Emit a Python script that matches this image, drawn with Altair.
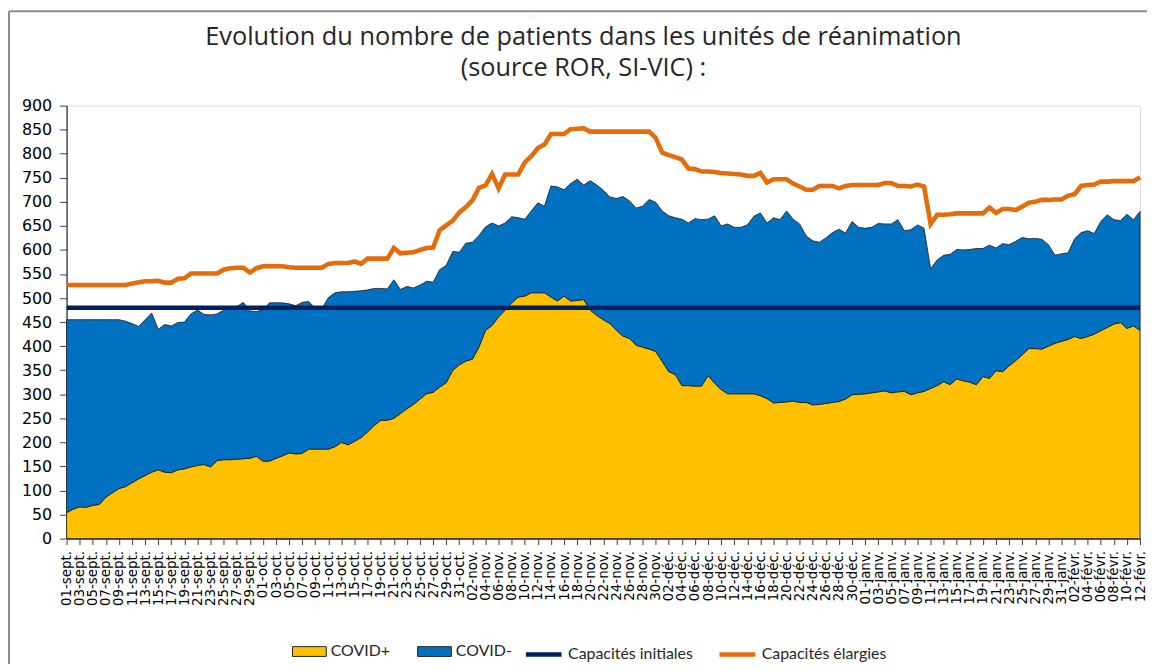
import datetime as dt
import altair as alt
import pandas as pd

# ---------------- data ----------------
covid_pos = [
    54, 61, 66, 65, 69, 71, 86, 95, 104, 108,
    116, 124, 131, 138, 143, 138, 137, 143, 145, 149,
    152, 154, 149, 162, 164, 164, 165, 166, 167, 171,
    161, 161, 167, 172, 178, 176, 177, 186, 186, 186,
    186, 191, 200, 195, 202, 210, 222, 235, 246, 246,
    250, 260, 270, 279, 290, 301, 304, 315, 324, 350,
    361, 369, 373, 398, 433, 443, 461, 475, 490, 502,
    504, 511, 511, 511, 502, 494, 504, 494, 495, 497,
    475, 464, 455, 447, 433, 421, 416, 402, 398, 394,
    389, 368, 347, 341, 318, 318, 317, 317, 339, 323,
    310, 301, 301, 301, 301, 301, 297, 291, 282, 283,
    284, 286, 283, 283, 278, 279, 281, 283, 285, 290,
    299, 300, 301, 303, 305, 307, 303, 305, 306, 299,
    303, 306, 312, 318, 326, 320, 332, 328, 325, 320,
    337, 333, 349, 347, 359, 370, 382, 395, 395, 394,
    400, 406, 410, 414, 420, 416, 420, 425, 432, 439,
    446, 449, 437, 442, 433,
]

# COVID+ plus COVID- (top of the blue area)
total_patients = [
    455, 455, 455, 455, 455, 455, 455, 455, 455, 452,
    447, 441, 455, 469, 435, 445, 442, 449, 450, 467,
    475, 466, 465, 467, 475, 480, 482, 491, 473, 472,
    475, 490, 490, 490, 488, 484, 491, 493, 478, 478,
    501, 511, 513, 513, 514, 515, 517, 520, 520, 519,
    538, 518, 524, 521, 527, 535, 533, 559, 568, 597,
    595, 614, 616, 630, 648, 656, 650, 656, 669, 667,
    664, 681, 698, 691, 733, 731, 725, 738, 747, 735,
    744, 735, 724, 710, 707, 711, 702, 687, 691, 705,
    699, 681, 671, 667, 664, 656, 665, 663, 664, 671,
    650, 654, 647, 647, 652, 670, 677, 656, 667, 663,
    681, 664, 654, 629, 619, 616, 625, 636, 643, 635,
    659, 647, 645, 647, 655, 654, 654, 663, 640, 642,
    652, 645, 561, 579, 589, 591, 601, 600, 601, 603,
    603, 610, 604, 613, 611, 618, 626, 623, 624, 622,
    611, 589, 592, 594, 623, 636, 640, 634, 659, 673,
    663, 661, 674, 663, 680,
]

capacites_elargies = [
    527, 527, 527, 527, 527, 527, 527, 527, 527, 527,
    530, 533, 535, 535, 536, 532, 532, 540, 541, 551,
    551, 551, 551, 551, 559, 562, 563, 563, 553, 562,
    566, 566, 566, 566, 564, 563, 563, 563, 563, 563,
    571, 573, 573, 573, 576, 571, 582, 582, 582, 582,
    604, 593, 594, 595, 600, 604, 605, 641, 651, 661,
    678, 689, 703, 729, 734, 758, 728, 757, 757, 757,
    782, 795, 812, 819, 841, 841, 841, 851, 852, 853,
    846, 846, 846, 846, 846, 846, 846, 846, 846, 846,
    833, 802, 797, 793, 788, 769, 768, 763, 763, 762,
    760, 759, 758, 757, 754, 754, 760, 740, 747, 747,
    747, 738, 732, 725, 725, 733, 733, 733, 728, 733,
    735, 735, 735, 735, 735, 739, 739, 733, 733, 732,
    736, 732, 654, 673, 673, 674, 676, 676, 676, 676,
    676, 688, 677, 685, 685, 683, 690, 698, 700, 704,
    704, 705, 705, 713, 716, 733, 735, 736, 742, 742,
    743, 743, 743, 743, 751,
]

capacites_initiales = 480

mois_fr = {9: "sept.", 10: "oct.", 11: "nov.", 12: "déc.", 1: "janv.", 2: "févr."}
start = dt.date(2020, 9, 1)
n_days = len(covid_pos)
day_labels = [
    f"{d.day:02d}-{mois_fr[d.month]}"
    for d in (start + dt.timedelta(days=i) for i in range(n_days))
]
tick_days = list(range(0, n_days, 2))
y_ticks = list(range(0, 901, 50))

area_series = ["COVID+", "COVID-"]
line_series = ["Capacités initiales", "Capacités élargies"]
YELLOW, BLUE, NAVY, ORANGE = "#FFC000", "#0070C0", "#002060", "#E46C0A"

# ---------------- tables ----------------
area_rows = []
for i in range(n_days):
    area_rows.append({"day": i, "serie": "COVID+", "lo": 0, "hi": covid_pos[i]})
    area_rows.append({"day": i, "serie": "COVID-", "lo": covid_pos[i], "hi": total_patients[i]})
area_df = pd.DataFrame(area_rows)

line_rows = []
for i in range(n_days):
    line_rows.append({"day": i, "serie": "Capacités initiales", "v": capacites_initiales})
    line_rows.append({"day": i, "serie": "Capacités élargies", "v": capacites_elargies[i]})
line_df = pd.DataFrame(line_rows)

label_js = "[" + ",".join("'" + s + "'" for s in day_labels) + "][datum.value]"

x_enc = alt.X(
    "day:Q",
    scale=alt.Scale(domain=[0, n_days - 1], nice=False, zero=False),
    axis=alt.Axis(
        values=tick_days,
        tickCount=500,
        labelExpr=label_js,
        labelAngle=270,
        labelOverlap=False,
        labelFlush=False,
        labelBound=False,
        labelFont="DejaVu Sans",
        labelFontSize=13.5,
        labelColor="#000000",
        labelPadding=6,
        tickSize=6,
        tickColor="#404040",
        domainColor="#262626",
        domainWidth=1.2,
        grid=False,
        title=None,
    ),
)
y_scale = alt.Scale(domain=[0, 900], nice=False, zero=True)
y_axis = alt.Axis(
    values=y_ticks,
    tickCount=500,
    labelOverlap=False,
    labelFont="DejaVu Sans",
    labelFontSize=16,
    labelColor="#000000",
    labelPadding=8,
    tickSize=7,
    tickColor="#404040",
    domainColor="#262626",
    domainWidth=1.2,
    grid=False,
    title=None,
)

legend_common = dict(
    title=None,
    orient="none",
    legendY=532,
    direction="horizontal",
    labelFont="Lato",
    labelFontSize=16,
    labelColor="#262626",
    labelOffset=4,
)

areas = alt.Chart(area_df).mark_area(
    stroke="#1a1a1a", strokeWidth=0.8, interpolate="linear"
).encode(
    x=x_enc,
    y=alt.Y("hi:Q", scale=y_scale, axis=y_axis, stack=None),
    y2="lo:Q",
    fill=alt.Fill(
        "serie:N",
        scale=alt.Scale(domain=area_series, range=[YELLOW, BLUE]),
        sort=area_series,
        legend=alt.Legend(
            legendX=227,
            symbolType="M-1,-0.29H1V0.29H-1Z",
            symbolSize=1156,
            symbolStrokeColor="#262626",
            symbolStrokeWidth=1,
            columnPadding=25,
            **legend_common,
        ),
    ),
)

lines = alt.Chart(line_df).mark_line(strokeWidth=4.6, interpolate="linear").encode(
    x=alt.X("day:Q"),
    y=alt.Y("v:Q"),
    stroke=alt.Stroke(
        "serie:N",
        scale=alt.Scale(domain=line_series, range=[NAVY, ORANGE]),
        sort=line_series,
        legend=alt.Legend(
            legendX=460,
            symbolType="stroke",
            symbolSize=1296,
            symbolStrokeWidth=4.6,
            columnPadding=17,
            **legend_common,
        ),
    ),
    detail="serie:N",
)

frame_df = pd.DataFrame({"k": [0]})
frame_left = alt.Chart(frame_df).mark_rule(color="#8c8c8c", strokeWidth=2).encode(
    x=alt.value(-58), y=alt.value(-95), y2=alt.value(570)
)
frame_top = alt.Chart(frame_df).mark_rule(color="#8c8c8c", strokeWidth=2).encode(
    x=alt.value(-58), x2=alt.value(1090), y=alt.value(-95)
)

chart = (
    alt.layer(areas, lines, frame_left, frame_top)
    .resolve_scale(fill="independent", stroke="independent")
    .properties(
        width=1081,
        height=436,
        padding={"left": 59, "top": 96, "right": 7, "bottom": 124},
        autosize=alt.AutoSizeParams(type="none"),
        title=alt.TitleParams(
            text=[
                "Evolution du nombre de patients dans les unités de réanimation",
                "(source ROR, SI-VIC) :",
            ],
            font="Open Sans",
            fontSize=25.5,
            fontWeight="normal",
            color="#262626",
            lineHeight=32,
            anchor="middle",
            dx=-20,
            dy=72,
            offset=0,
        ),
    )
    .configure_view(stroke="#7f7f7f", strokeWidth=1.5)
    .configure(background="white")
)

chart.save("out.html", embed_options={"renderer": "svg", "actions": False})
